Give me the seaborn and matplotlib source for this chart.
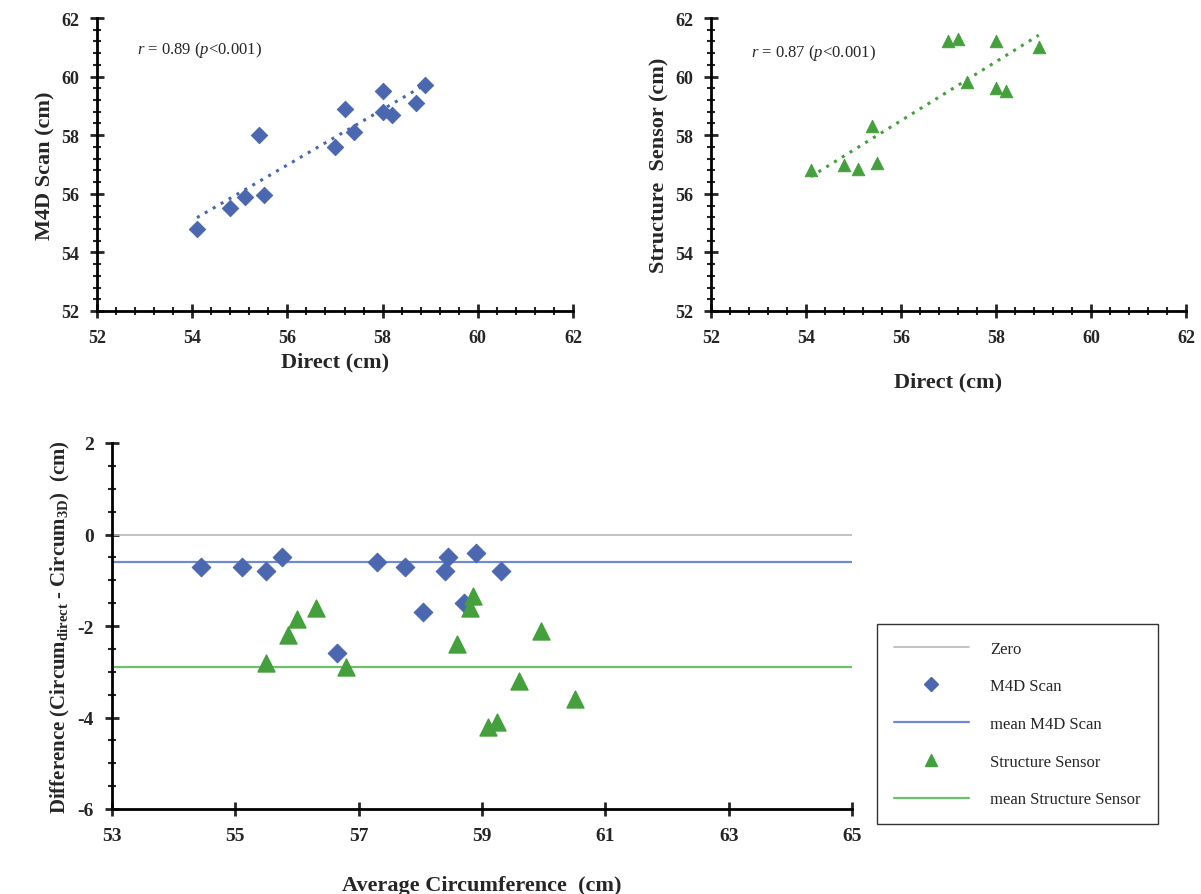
import numpy as np
import pandas as pd
import matplotlib
matplotlib.use("Agg")
import matplotlib.pyplot as plt
import seaborn as sns
from matplotlib.ticker import MultipleLocator, FixedLocator
from matplotlib.lines import Line2D

sns.set_style("white")
plt.rcParams['font.family'] = ['Liberation Serif', 'DejaVu Serif']
plt.rcParams['mathtext.fontset'] = 'custom'
plt.rcParams['mathtext.rm'] = 'Liberation Serif'
plt.rcParams['mathtext.it'] = 'Liberation Serif:italic'
plt.rcParams['axes.unicode_minus'] = False

BLUE = "#4a67b0"
GREEN = "#44a03c"

m4d_direct = [54.1, 54.8, 55.1, 55.4, 55.5, 57.0, 57.2, 57.4, 58.0, 58.0, 58.2, 58.7, 58.9]
m4d_scan = [54.8, 55.5, 55.9, 58.0, 55.95, 57.6, 58.9, 58.1, 59.5, 58.8, 58.7, 59.1, 59.7]
ss_direct = [54.1, 54.8, 55.1, 55.4, 55.5, 57.0, 57.2, 57.4, 58.0, 58.0, 58.2, 58.9]
ss_scan = [56.8, 57.0, 56.85, 58.3, 57.05, 61.2, 61.3, 59.8, 61.2, 59.6, 59.5, 61.0]

ba_m4d_avg = [54.45, 55.1, 55.5, 55.75, 57.3, 57.75, 58.4, 58.45, 58.9, 59.3, 58.05, 58.7, 56.65]
ba_m4d_diff = [-0.7, -0.7, -0.8, -0.5, -0.6, -0.7, -0.8, -0.5, -0.4, -0.8, -1.7, -1.5, -2.6]
ba_ss_avg = [55.5, 55.85, 56.0, 56.3, 56.8, 58.6, 58.8, 58.85, 59.6, 59.95, 59.1, 59.25, 60.5]
ba_ss_diff = [-2.8, -2.2, -1.85, -1.6, -2.9, -2.4, -1.6, -1.35, -3.2, -2.1, -4.2, -4.1, -3.6]
mean_m4d = -0.6
mean_ss = -2.9
ba_xticks = [53, 55, 57, 59, 61, 63, 65]

W, H = 1201, 895
fig = plt.figure(figsize=(W/100, H/100), dpi=100)
def ax_px(l, t, r, b):
    return fig.add_axes([l/W, 1-b/H, (r-l)/W, (b-t)/H])

ax1 = ax_px(97, 19, 573, 312)
ax2 = ax_px(711, 19, 1186, 312)
ax3 = ax_px(112, 444, 852, 810)

def style_axes(ax, fs):
    for s in ['top', 'right']:
        ax.spines[s].set_visible(False)
    for s in ['left', 'bottom']:
        ax.spines[s].set_linewidth(2); ax.spines[s].set_color('black')
    ax.tick_params(which='both', bottom=True, left=True, top=False, right=False)
    ax.tick_params(which='major', direction='inout', length=10, width=2, labelsize=fs, pad=8)
    ax.tick_params(which='minor', direction='inout', length=6, width=1.5)
    for lab in ax.get_xticklabels() + ax.get_yticklabels():
        lab.set_fontweight('bold')

def style_top(ax):
    ax.set_xlim(52, 62); ax.set_ylim(52, 62)
    ax.xaxis.set_major_locator(MultipleLocator(2))
    ax.yaxis.set_major_locator(MultipleLocator(2))
    ax.xaxis.set_minor_locator(MultipleLocator(0.4))
    ax.yaxis.set_minor_locator(MultipleLocator(0.4))
    style_axes(ax, 13)

# Top-left
d1 = pd.DataFrame({'x': m4d_direct, 'y': m4d_scan})
sns.scatterplot(data=d1, x='x', y='y', ax=ax1, marker='D', s=70, color=BLUE, edgecolor=BLUE)
k, c = np.polyfit(m4d_direct, m4d_scan, 1)
xs = np.array([min(m4d_direct), max(m4d_direct)])
ax1.plot(xs, k*xs + c, ls=(0, (1, 2)), lw=2.2, color=BLUE)
style_top(ax1)
ax1.set_xlabel("Direct (cm)", fontsize=16, fontweight='bold')
ax1.set_ylabel("M4D Scan (cm)", fontsize=16, fontweight='bold')
ax1.text(0.085, 0.88, r"$r$ = 0.89 ($p$<$0.001$)", transform=ax1.transAxes, fontsize=12)

# Top-right
d2 = pd.DataFrame({'x': ss_direct, 'y': ss_scan})
sns.scatterplot(data=d2, x='x', y='y', ax=ax2, marker='^', s=80, color=GREEN, edgecolor=GREEN)
k, c = np.polyfit(ss_direct, ss_scan, 1)
xs = np.array([min(ss_direct), max(ss_direct)])
ax2.plot(xs, k*xs + c, ls=(0, (1, 2)), lw=2.2, color=GREEN)
style_top(ax2)
ax2.set_xlabel("Direct (cm)", fontsize=16, fontweight='bold', labelpad=18)
ax2.set_ylabel("Structure  Sensor (cm)", fontsize=16, fontweight='bold')
ax2.text(0.085, 0.87, r"$r$ = 0.87 ($p$<$0.001$)", transform=ax2.transAxes, fontsize=12)

# Bottom Bland-Altman
ax3.axhline(0, color='#b8b8b8', lw=1.2)
ax3.axhline(mean_m4d, color='#6f8bd0', lw=1.6)
ax3.axhline(mean_ss, color='#6cc06a', lw=1.6)
d3 = pd.DataFrame({'x': ba_m4d_avg, 'y': ba_m4d_diff})
d4 = pd.DataFrame({'x': ba_ss_avg, 'y': ba_ss_diff})
sns.scatterplot(data=d3, x='x', y='y', ax=ax3, marker='D', s=90, color=BLUE, edgecolor=BLUE, zorder=3)
sns.scatterplot(data=d4, x='x', y='y', ax=ax3, marker='^', s=150, color=GREEN, edgecolor=GREEN, zorder=3)
ax3.set_xlim(53, 65); ax3.set_ylim(-6, 2)
ax3.xaxis.set_major_locator(FixedLocator(ba_xticks))
ax3.yaxis.set_major_locator(MultipleLocator(2))
ax3.yaxis.set_minor_locator(MultipleLocator(0.5))
style_axes(ax3, 14)
ax3.set_xlabel("Average Circumference  (cm)", fontsize=16, fontweight='bold', labelpad=22)
ax3.set_ylabel(r"Difference (Circum$_{\mathregular{direct}}$ - Circum$_{\mathregular{3D}}$)  (cm)",
               fontsize=15, fontweight='bold')

handles = [
    Line2D([], [], color='#b8b8b8', lw=1.2),
    Line2D([], [], marker='D', ls='none', color=BLUE, markersize=7),
    Line2D([], [], color='#6f8bd0', lw=1.6),
    Line2D([], [], marker='^', ls='none', color=GREEN, markersize=8),
    Line2D([], [], color='#6cc06a', lw=1.6),
]
labels = ["Zero", "M4D Scan", "mean M4D Scan", "Structure Sensor", "mean Structure Sensor"]
fig.legend(handles, labels, loc='upper left', bbox_to_anchor=(877/W, 1-625/H),
           frameon=True, fancybox=False, edgecolor='black', fontsize=12,
           labelspacing=1.3, borderpad=1.0, handlelength=4.5, handletextpad=1.3,
           borderaxespad=0)

fig.savefig("out.png", dpi=100)
